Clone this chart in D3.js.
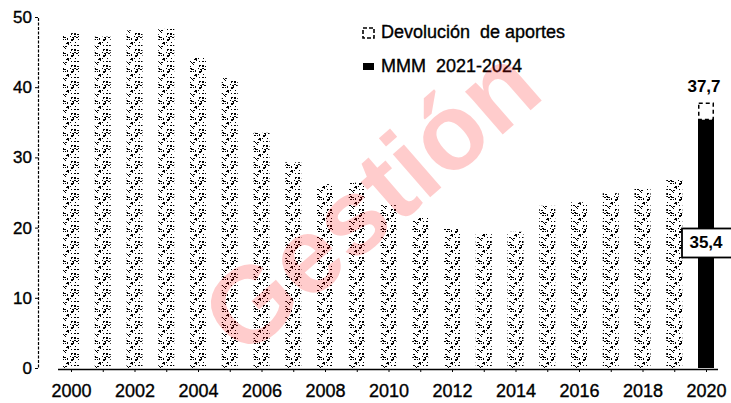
<!DOCTYPE html>
<html>
<head>
<meta charset="utf-8">
<script src="https://cdn.jsdelivr.net/npm/d3@7"></script>
<style>
  body { margin: 0; background: #fff; }
  svg { display: block; font-family: 'Liberation Sans', Arial, sans-serif; }
  .tick text, .leg-text { stroke: #000; stroke-width: 0.35px; }
</style>
</head>
<body>
<div id="chart"></div>
<script>
const years = d3.range(2000, 2021)
const devolucion = [47.7, 47.2, 48.1, 48.3, 44.3, 41.3, 33.5, 29.3, 26.2, 26.4, 23.2, 21.5,
  19.8, 19.1, 19.4, 23.1, 23.6, 24.9, 25.5, 26.8, 37.7]
const mmm = [0, 0, 0, 0, 0, 0, 0, 0, 0, 0, 0, 0, 0, 0, 0, 0, 0, 0, 0, 0, 35.4]
const yTicks = [0, 10, 20, 30, 40, 50]
const legendLabels = ['Devolución  de aportes', 'MMM  2021-2024']

const width = 731
const height = 403

const svg = d3.select('#chart').append('svg')
  .attr('width', width)
  .attr('height', height)

/**
 * Builds a stippled fill so the bars look like the scanned grey of the original.
 */
function addStipple () {
  const pat = svg.append('defs').append('pattern')
    .attr('id', 'stipple')
    .attr('patternUnits', 'userSpaceOnUse')
    .attr('width', 16)
    .attr('height', 16)
  let seed = 7
  const next = () => { seed = (seed * 9301 + 49297) % 233280; return seed / 233280 }
  for (let i = 0; i < 40; i++) {
    pat.append('rect')
      .attr('x', Math.floor(next() * 16))
      .attr('y', Math.floor(next() * 16))
      .attr('width', next() < 0.5 ? 2 : 1)
      .attr('height', 1)
      .attr('fill', '#000')
  }
}
addStipple()

const x = d3.scalePoint()
  .domain(years)
  .range([71, 706])

const y = d3.scaleLinear()
  .domain([0, 50])
  .range([368, 17])

const barW = 16

// y axis
const yAxis = svg.append('g')
  .attr('transform', 'translate(38, 0)')
  .call(d3.axisLeft(y).tickValues(yTicks).tickSize(3).tickPadding(3))
yAxis.select('.domain').attr('stroke-dasharray', '3,1.5').attr('stroke-width', 1.2)
yAxis.selectAll('text')
  .style('font-size', '17px')
  .attr('fill', '#000')

// x axis
const xAxis = svg.append('g')
  .attr('transform', 'translate(0, 369)')
  .call(d3.axisBottom(x).tickSize(3).tickPadding(12)
    .tickFormat(d => d % 2 === 0 ? d : ''))
xAxis.select('.domain')
  .attr('d', 'M58,0.5H718')
  .attr('stroke-width', 1.3)
xAxis.selectAll('text')
  .style('font-size', '18px')
  .attr('fill', '#000')

// stippled bars (Devolución de aportes), 2020 drawn separately
const data = years.map((yr, i) => ({ year: yr, dev: devolucion[i], mmm: mmm[i] }))

svg.append('g').selectAll('.bar')
  .data(data.filter(d => d.mmm === 0))
  .join('rect')
  .attr('class', 'bar')
  .attr('x', d => x(d.year) - barW / 2)
  .attr('y', d => y(d.dev))
  .attr('width', barW)
  .attr('height', d => y(0) - y(d.dev))
  .attr('fill', 'url(#stipple)')

const last = data.filter(d => d.mmm > 0)
const g20 = svg.append('g')
g20.selectAll('.mmm')
  .data(last)
  .join('rect')
  .attr('class', 'mmm')
  .attr('x', d => x(d.year) - barW / 2)
  .attr('y', d => y(d.mmm))
  .attr('width', barW)
  .attr('height', d => y(0) - y(d.mmm))
  .attr('fill', '#000')
g20.selectAll('.dev')
  .data(last)
  .join('rect')
  .attr('class', 'dev')
  .attr('x', d => x(d.year) - barW / 2 + 0.75)
  .attr('y', d => y(d.dev))
  .attr('width', barW - 1.5)
  .attr('height', d => y(d.mmm) - y(d.dev))
  .attr('fill', '#fff')
  .attr('stroke', '#000')
  .attr('stroke-width', 1.5)
  .attr('stroke-dasharray', '4,3')

g20.selectAll('.top-label')
  .data(last)
  .join('text')
  .attr('class', 'top-label')
  .attr('x', d => x(d.year) - 2)
  .attr('y', d => y(d.dev) - 11)
  .attr('text-anchor', 'middle')
  .style('font-size', '17px')
  .style('font-weight', 'bold')
  .text(d => d3.format('.1f')(d.dev).replace('.', ','))

const boxes = g20.selectAll('.mmm-label')
  .data(last)
  .join('g')
  .attr('class', 'mmm-label')
  .attr('transform', d => 'translate(' + (x(d.year) - 24) + ',' + (y(d.mmm) + 109) + ')')
boxes.append('rect')
  .attr('width', 52)
  .attr('height', 29)
  .attr('fill', '#fff')
  .attr('stroke', '#000')
  .attr('stroke-width', 1.8)
boxes.append('text')
  .attr('x', 24)
  .attr('y', 20)
  .attr('text-anchor', 'middle')
  .style('font-size', '17px')
  .style('font-weight', 'bold')
  .text(d => d3.format('.1f')(d.mmm).replace('.', ','))

// legend
const legend = svg.append('g')
legend.append('rect')
  .attr('x', 363).attr('y', 28).attr('width', 11).attr('height', 10)
  .attr('fill', '#fff').attr('stroke', '#000').attr('stroke-width', 1.6)
  .attr('stroke-dasharray', '4,2')
legend.append('rect')
  .attr('x', 363).attr('y', 63).attr('width', 11).attr('height', 7)
  .attr('fill', '#000')
legend.selectAll('.leg-text')
  .data(legendLabels)
  .join('text')
  .attr('class', 'leg-text')
  .attr('x', 381)
  .attr('y', (d, i) => 38 + i * 34)
  .attr('xml:space', 'preserve')
  .style('white-space', 'pre')
  .style('font-size', '18px')
  .text(d => d)

// watermark
svg.append('text')
  .attr('transform', 'translate(395, 228) rotate(-41)')
  .attr('text-anchor', 'middle')
  .style('font-size', '108px')
  .style('font-weight', 'bold')
  .attr('fill', 'rgba(255, 0, 0, 0.2)')
  .text('Gestión')
</script>
</body>
</html>
